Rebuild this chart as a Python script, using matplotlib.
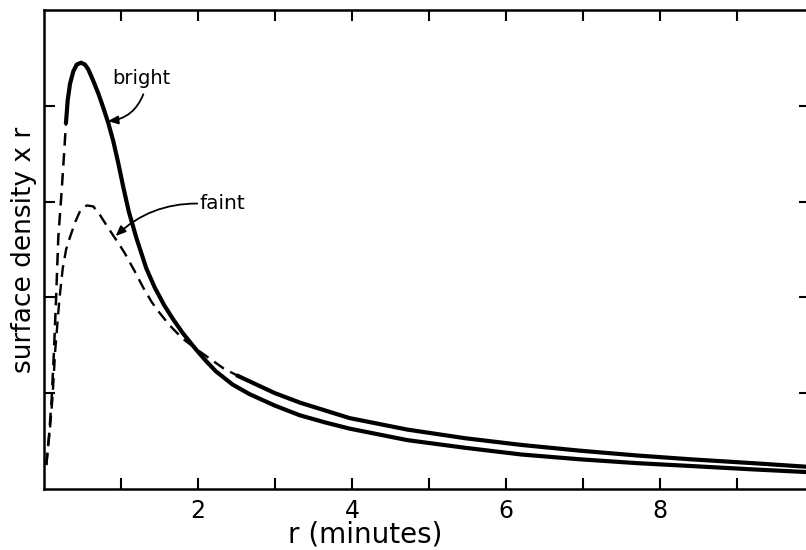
import numpy as np
import matplotlib.pyplot as plt

# curve readings, r in minutes, y in tick units
bright_r = [0.03, 0.07, 0.10, 0.13, 0.156, 0.186, 0.23, 0.264, 0.286,
            0.308, 0.338, 0.381, 0.425, 0.481, 0.532, 0.575, 0.64, 0.705,
            0.77, 0.835, 0.90, 0.965, 1.03, 1.10, 1.20, 1.33, 1.44, 1.56,
            1.67, 1.80, 1.97, 2.10, 2.23, 2.45, 2.67, 3.0, 3.32, 3.65, 3.97,
            4.72, 5.47, 6.2, 6.96, 7.7, 8.40, 9.2, 9.95]
bright_y = [0.25, 0.60, 0.95, 1.45, 1.97, 2.63, 3.12, 3.54, 3.83,
            4.06, 4.23, 4.36, 4.43, 4.45, 4.43, 4.38, 4.26, 4.13,
            3.98, 3.82, 3.63, 3.40, 3.15, 2.90, 2.62, 2.30, 2.10, 1.92,
            1.78, 1.63, 1.46, 1.34, 1.23, 1.09, 0.99, 0.87, 0.77, 0.695, 0.63,
            0.51, 0.43, 0.36, 0.31, 0.27, 0.24, 0.205, 0.175]
bright_dash_end = 8   # index where the solid part starts

faint_r = [0.03, 0.076, 0.108, 0.147, 0.20, 0.243, 0.287, 0.338, 0.381,
           0.412, 0.468, 0.554, 0.64, 0.727, 0.814, 0.90, 0.98, 1.05, 1.18,
           1.29, 1.40, 1.50, 1.63, 1.80, 1.98, 2.33, 2.52, 2.68, 3.0, 3.33,
           3.65, 3.97, 4.72, 5.47, 6.2, 6.96, 7.7, 8.40, 9.2, 9.95]
faint_y = [0.25, 0.62, 0.93, 1.46, 1.98, 2.30, 2.50, 2.63, 2.73,
           2.80, 2.90, 2.96, 2.95, 2.86, 2.75, 2.645, 2.55, 2.46, 2.27,
           2.10, 1.95, 1.84, 1.71, 1.57, 1.46, 1.26, 1.18, 1.12, 1.0, 0.90,
           0.82, 0.74, 0.62, 0.53, 0.46, 0.40, 0.35, 0.31, 0.27, 0.23]
faint_dash_end = 26

xticks = [1, 2, 3, 4, 5, 6, 7, 8, 9]
xticklabels = ["", "2", "", "4", "", "6", "", "8", ""]
yticks = [1, 2, 3, 4]

fig = plt.figure(figsize=(8.06, 5.5), dpi=100)
ax = fig.add_axes([44 / 806, 1 - 489 / 550, (810 - 44) / 806, (489 - 10) / 550])

br = np.array(bright_r); by = np.array(bright_y)
fr = np.array(faint_r); fy = np.array(faint_y)
k = bright_dash_end
ax.plot(br[:k + 1], by[:k + 1], color="black", lw=1.8, ls=(0, (5, 3)))
ax.plot(br[k:], by[k:], color="black", lw=3.0, solid_joinstyle="round")
k = faint_dash_end
ax.plot(fr[:k + 1], fy[:k + 1], color="black", lw=1.7, ls=(0, (5, 3)))
ax.plot(fr[k:], fy[k:], color="black", lw=3.0, solid_joinstyle="round")

ax.text(1.26, 4.28, "bright", fontsize=14, ha="center", va="center")
ax.annotate("", xy=(0.83, 3.84), xytext=(1.29, 4.12),
            arrowprops=dict(arrowstyle="-|>,head_length=0.6,head_width=0.25",
                            color="black", lw=1.3,
                            connectionstyle="arc3,rad=-0.3", shrinkA=0, shrinkB=0))
ax.text(2.02, 2.985, "faint", fontsize=14.5, ha="left", va="center")
ax.annotate("", xy=(0.93, 2.64), xytext=(1.99, 2.98),
            arrowprops=dict(arrowstyle="-|>,head_length=0.6,head_width=0.25",
                            color="black", lw=1.3,
                            connectionstyle="arc3,rad=0.2", shrinkA=0, shrinkB=0))

ax.set_xlim(0, (810 - 44) / 77.0)
ax.set_ylim(0, 5.0)
ax.set_xticks(xticks)
ax.set_xticklabels(xticklabels)
ax.set_yticks(yticks)
ax.set_yticklabels([])
ax.tick_params(direction="in", top=True, right=True, length=8, width=1.5,
               labelsize=17, pad=7)
for s in ax.spines.values():
    s.set_linewidth(1.8)

ax.set_xlabel("r (minutes)", fontsize=20)
ax.xaxis.set_label_coords(0.419, -0.1245)
ax.xaxis.label.set_va("bottom")
ax.set_ylabel("surface density x r", fontsize=19)
ax.yaxis.set_label_coords(-0.009, 0.5)

fig.savefig("out.png", dpi=100)
